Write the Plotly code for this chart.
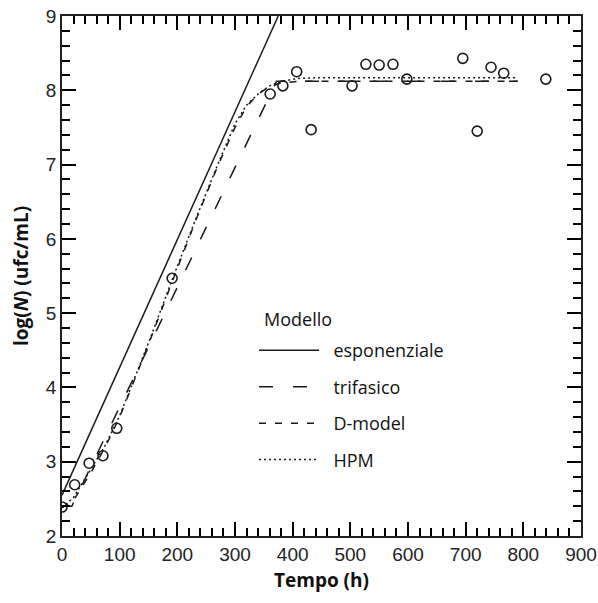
import plotly.graph_objects as go

# Observed data
obs_t = [0, 22, 47, 71, 95, 191, 361, 383, 407, 432, 503, 527, 550, 574, 598, 695, 720, 744, 766, 839]
obs_logN = [2.39, 2.69, 2.98, 3.08, 3.45, 5.47, 7.95, 8.06, 8.25, 7.47, 8.06, 8.35, 8.34, 8.35, 8.15, 8.43, 7.45, 8.31, 8.23, 8.15]

# Model curves
exp_t = [0, 375]
exp_y = [2.55, 9.0]

tri_t = [0, 17, 372, 790]
tri_y = [2.40, 2.40, 8.12, 8.12]

dmod_t = [0, 20, 50, 75, 100, 150, 191, 232, 270, 300, 320, 340, 360, 380, 410, 790]
dmod_y = [2.38, 2.48, 2.85, 3.20, 3.60, 4.58, 5.42, 6.25, 6.98, 7.50, 7.78, 7.95, 8.05, 8.10, 8.12, 8.12]

hpm_t = [0, 20, 50, 75, 100, 150, 191, 232, 270, 300, 320, 340, 360, 380, 410, 450, 790]
hpm_y = [2.38, 2.52, 2.90, 3.22, 3.62, 4.60, 5.45, 6.27, 7.00, 7.55, 7.80, 7.95, 8.06, 8.12, 8.16, 8.17, 8.17]

model_names = ["esponenziale", "trifasico", "D-model", "HPM"]

x_major = [0, 100, 200, 300, 400, 500, 600, 700, 800, 900]
y_major = [2, 3, 4, 5, 6, 7, 8, 9]

ink = "#1a1a1a"
pad = "\u00a0\u00a0"
fig = go.Figure()

fig.add_trace(go.Scatter(x=exp_t, y=exp_y, mode="lines", name=pad + model_names[0],
                         legendgroup="a", line=dict(color=ink, width=1.5)))
fig.add_trace(go.Scatter(x=tri_t, y=tri_y, mode="lines", name=pad + model_names[1],
                         legendgroup="b", line=dict(color=ink, width=1.5, dash="14px,20px")))
fig.add_trace(go.Scatter(x=dmod_t, y=dmod_y, mode="lines", name=pad + model_names[2],
                         legendgroup="c", line=dict(color=ink, width=1.5, dash="7px,9px")))
fig.add_trace(go.Scatter(x=hpm_t, y=hpm_y, mode="lines", name=pad + model_names[3],
                         legendgroup="d", line=dict(color=ink, width=1.5, dash="2px,3px")))
fig.add_trace(go.Scatter(x=obs_t, y=obs_logN, mode="markers", name="dati", showlegend=False,
                         marker=dict(symbol="circle-open", size=10, color=ink, line=dict(width=1.6, color=ink))))

tickfont = dict(family="Liberation Sans, Arial", size=19, color="#222")
common = dict(showline=True, linecolor="#222", linewidth=1.5, mirror="allticks",
              ticks="inside", ticklen=14, tickwidth=2, tickcolor="#000000",
              showgrid=False, zeroline=False, tickfont=tickfont, automargin=False)

fig.update_xaxes(range=[0, 900], tickvals=x_major, ticklabeloverflow="allow",
                 minor=dict(ticks="inside", ticklen=8, tickwidth=1.5, tickcolor="#000000", dtick=20),
                 title=dict(text="<b>Tempo (h)</b>", font=dict(family="Open Sans", size=19, color="#111"), standoff=10),
                 **common)
fig.update_yaxes(range=[2, 9], tickvals=y_major,
                 minor=dict(ticks="inside", ticklen=8, tickwidth=1.5, tickcolor="#000000", dtick=0.2),
                 title=dict(text="<b>log(<i>N</i>) (ufc/mL)</b>", font=dict(family="Open Sans", size=19, color="#111"), standoff=12),
                 **common)

fig.add_annotation(text="Modello", xref="paper", yref="paper", x=0.385, y=0.417,
                   xanchor="left", yanchor="middle", showarrow=False,
                   font=dict(family="Open Sans", size=18, color="#111"))

fig.update_layout(
    width=598, height=603,
    margin=dict(l=62, r=17, t=16, b=67),
    paper_bgcolor="white", plot_bgcolor="white",
    legend=dict(x=0.37, y=0.392, xanchor="left", yanchor="top",
                font=dict(family="Open Sans", size=18, color="#111"),
                bgcolor="rgba(0,0,0,0)", itemwidth=60, tracegroupgap=10,
                traceorder="grouped"),
    showlegend=True,
)

fig.write_html("out.html")
